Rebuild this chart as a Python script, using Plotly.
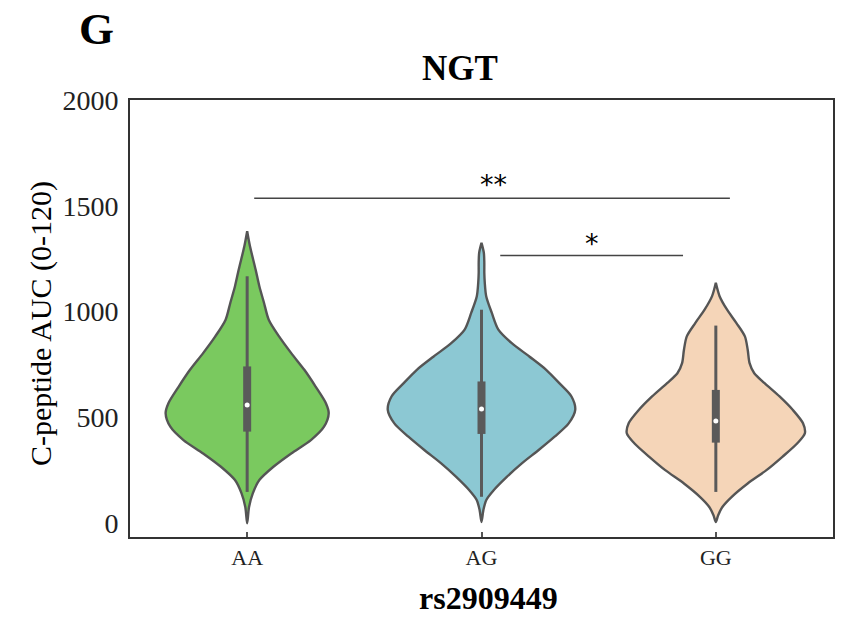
import plotly.graph_objects as go

categories = ["AA", "AG", "GG"]
colors = ["#7AC95F", "#8CC8D3", "#F5D5B8"]

# violin outlines: value levels and relative density
aa_levels = [0, 77, 141, 204, 267, 330, 393, 456, 520, 567, 646, 725, 804, 883, 962, 1041, 1120, 1199, 1309, 1380]
aa_density = [0, .02, .06, .13, .28, .47, .68, .82, .87, .84, .73, .61, .47, .34, .23, .18, .13, .09, .03, 0]

ag_levels = [6, 62, 109, 156, 219, 283, 346, 409, 472, 536, 599, 662, 725, 788, 852, 915, 994, 1073, 1136, 1183, 1231, 1278, 1325]
ag_density = [0, .02, .05, .13, .27, .43, .61, .78, .93, 1.0, .96, .83, .69, .51, .32, .18, .11, .05, .035, .03, .03, .025, 0]

gg_levels = [6, 38, 77, 125, 188, 251, 314, 378, 425, 472, 536, 599, 662, 709, 757, 820, 883, 946, 1009, 1073, 1136]
gg_density = [0, .025, .07, .17, .34, .54, .71, .87, .95, .93, .82, .68, .52, .41, .36, .34, .31, .22, .12, .04, 0]

# box statistics: whisker low, q1, median, q3, whisker high
whisker_low = [148, 125, 148]
q1 = [433, 422, 381]
median = [559, 540, 483]
q3 = [741, 670, 630]
whisker_high = [1167, 1009, 934]

levels = [aa_levels, ag_levels, gg_levels]
densities = [aa_density, ag_density, gg_density]

# significance brackets
sig_labels = ["**", "*"]
sig_x0 = [0.03, 1.08]
sig_x1 = [2.06, 1.86]
sig_y = [1536, 1265]
sig_text_x = [1.05, 1.47]
sig_text_y = [1600, 1322]

MAXW = 0.40
fig = go.Figure()
for i, cat in enumerate(categories):
    lv = levels[i]
    dn = densities[i]
    xs = [i + MAXW * d for d in dn] + [i - MAXW * d for d in dn[::-1]]
    ys = lv + lv[::-1]
    fig.add_trace(go.Scatter(x=xs, y=ys, mode="lines", fill="toself",
                             fillcolor=colors[i], line=dict(color="#555555", width=2.4, shape="spline", smoothing=0.8),
                             hoverinfo="skip", showlegend=False))
    fig.add_trace(go.Scatter(x=[i, i], y=[whisker_low[i], whisker_high[i]], mode="lines",
                             line=dict(color="#5a5a5a", width=3), showlegend=False, hoverinfo="skip"))
    fig.add_trace(go.Scatter(x=[i, i], y=[q1[i], q3[i]], mode="lines",
                             line=dict(color="#5a5a5a", width=8), showlegend=False, hoverinfo="skip"))
    fig.add_trace(go.Scatter(x=[i], y=[median[i]], mode="markers",
                             marker=dict(color="white", size=5), showlegend=False, hoverinfo="skip"))

for k in range(len(sig_labels)):
    fig.add_trace(go.Scatter(x=[sig_x0[k], sig_x1[k]], y=[sig_y[k], sig_y[k]], mode="lines",
                             line=dict(color="#444444", width=1.6), showlegend=False, hoverinfo="skip"))
    fig.add_annotation(x=sig_text_x[k], y=sig_text_y[k], text=sig_labels[k], showarrow=False,
                       xanchor="center", yanchor="middle",
                       font=dict(family="DejaVu Sans", size=27, color="black"))

serif = "Liberation Serif"
# plot area in page pixels (body margin reset to 0 below)
L, R, T, B = 130, 833, 100, 537
W, H = R - L, B - T


def px(x):
    return (x - L) / W


def py(y):
    return (B - y) / H


fig.update_layout(
    width=849, height=617,
    margin=dict(l=L, r=849 - R, t=T, b=617 - B),
    plot_bgcolor="white", paper_bgcolor="white",
    font=dict(family=serif, color="#222222"),
    xaxis=dict(range=[-0.5, 2.5], tickvals=[0, 1, 2], ticktext=categories,
               showline=True, linecolor="#333333", linewidth=2, mirror=True,
               ticks="inside", ticklen=5, tickwidth=2, tickcolor="#555555",
               tickfont=dict(family=serif, size=22, color="#222222"), showgrid=False, zeroline=False),
    yaxis=dict(range=[-65, 2000], tickvals=[0, 500, 1000, 1500, 2000],
               showline=True, linecolor="#333333", linewidth=2, mirror=True,
               ticks="outside", ticklen=4, tickcolor="rgba(0,0,0,0)",
               tickfont=dict(family=serif, size=28, color="#222222"),
               showgrid=False, zeroline=False),
)
fig.add_annotation(xref="paper", yref="paper", x=px(460), y=py(69), text="<b>NGT</b>",
                   xanchor="center", yanchor="middle",
                   showarrow=False, font=dict(family=serif, size=35, color="black"))
fig.add_annotation(xref="paper", yref="paper", x=px(96), y=py(29), text="<b>G</b>",
                   xanchor="center", yanchor="middle",
                   showarrow=False, font=dict(family=serif, size=45, color="black"))
fig.add_annotation(xref="paper", yref="paper", x=px(41), y=py(324), text="C-peptide AUC (0-120)",
                   xanchor="center", yanchor="middle",
                   textangle=-90, showarrow=False, font=dict(family=serif, size=30, color="black"))
fig.add_annotation(xref="paper", yref="paper", x=px(488), y=py(598), text="<b>rs2909449</b>",
                   xanchor="center", yanchor="middle",
                   showarrow=False, font=dict(family=serif, size=32, color="black"))

fig.write_html("out.html", config={"displayModeBar": False},
               post_script="document.body.style.margin='0';document.body.style.overflow='hidden';")
